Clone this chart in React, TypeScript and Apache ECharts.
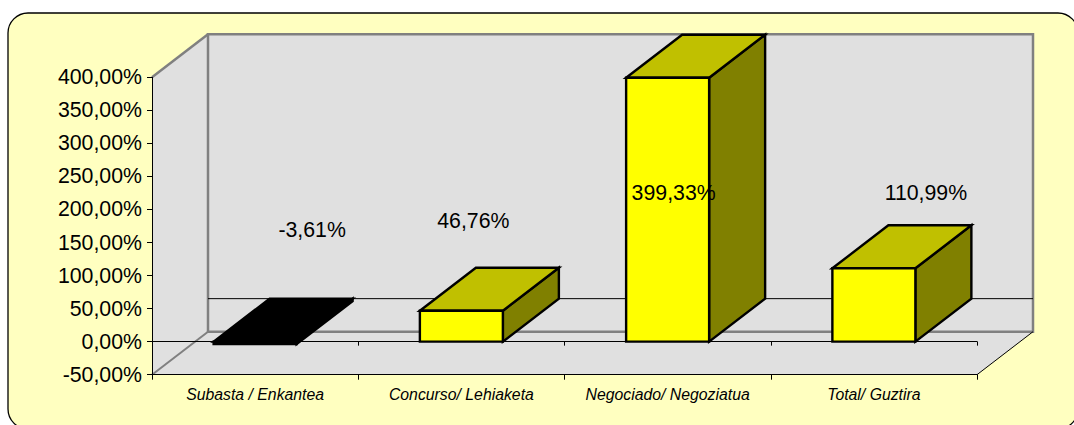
import React, { useEffect, useRef } from "react";
import * as echarts from "echarts";

const categories = ["Subasta / Enkantea", "Concurso/ Lehiaketa", "Negociado/ Negoziatua", "Total/ Guztira"];
const values = [-3.61, 46.76, 399.33, 110.99];
const yMin = -50;
const yMax = 400;
const yStep = 50;

const WIDTH = 1074;
const HEIGHT = 425;
const DX = 56;
const DY = -43;
const BAR_W = 83;
// label placement relative to the top-front centre of each bar
const LABEL_OFFSETS = [[57, -114], [12, -90], [6, 115], [52, -75]];

const fmtPct = (v: number) => v.toFixed(2).replace(".", ",") + "%";

export default function App() {
  const ref = useRef<HTMLDivElement>(null);
  useEffect(() => {
    document.body.style.margin = "0";
    document.body.style.background = "#ffffff";
    const chart = echarts.init(ref.current!, undefined, { renderer: "svg" });

    const renderWalls = (params: any, api: any) => {
      if (params.dataIndex !== 0) return { type: "group", children: [] };
      const band = api.size([1, 0])[0];
      const l = api.coord([0, yMin])[0] - band / 2;
      const r = api.coord([categories.length - 1, yMin])[0] + band / 2;
      const b = api.coord([0, yMin])[1];
      const t = api.coord([0, yMax])[1];
      const z = api.coord([0, 0])[1];
      const fill = { fill: "#e0e0e0" };
      const gray = { stroke: "#808080", lineWidth: 2.5, fill: "none" };
      return {
        type: "group",
        children: [
          { type: "polygon", shape: { points: [[l, t], [l + DX, t + DY], [l + DX, b + DY], [l, b]] }, style: fill },
          { type: "polygon", shape: { points: [[l, b], [l + DX, b + DY], [r + DX, b + DY], [r, b]] }, style: fill },
          { type: "rect", shape: { x: l + DX, y: t + DY, width: r - l, height: b - t }, style: { fill: "#e0e0e0", stroke: "#808080", lineWidth: 2.5 } },
          { type: "line", shape: { x1: l, y1: t, x2: l + DX, y2: t + DY }, style: gray },
          { type: "line", shape: { x1: l, y1: b, x2: l + DX, y2: b + DY }, style: { ...gray, lineWidth: 2 } },
          { type: "line", shape: { x1: r, y1: b, x2: r + DX, y2: b + DY }, style: { stroke: "#000", lineWidth: 1 } },
          { type: "line", shape: { x1: l + DX, y1: z + DY, x2: r + DX, y2: z + DY }, style: { stroke: "#000", lineWidth: 1 } },
        ],
      };
    };

    const renderBar = (params: any, api: any) => {
      const idx = api.value(0);
      const val = api.value(1);
      const [cx, yv] = api.coord([idx, val]);
      const y0 = api.coord([idx, 0])[1];
      const l = cx - BAR_W / 2;
      const r = cx + BAR_W / 2;
      const neg = val < 0;
      const top = Math.min(yv, y0);
      const bot = Math.max(yv, y0);
      const st = { stroke: "#000", lineWidth: 2.4, lineJoin: "miter" };
      const off = LABEL_OFFSETS[params.dataIndex];
      return {
        type: "group",
        children: [
          { type: "polygon", shape: { points: [[r, top], [r + DX, top + DY], [r + DX, bot + DY], [r, bot]] }, style: { ...st, fill: neg ? "#000" : "#808000" } },
          { type: "polygon", shape: { points: [[l, top], [l + DX, top + DY], [r + DX, top + DY], [r, top]] }, style: { ...st, fill: neg ? "#000" : "#c0c000" } },
          { type: "rect", shape: { x: l, y: top, width: BAR_W, height: bot - top }, style: { ...st, fill: neg ? "#000" : "#ffff00" } },
          {
            type: "text",
            x: cx + off[0],
            y: yv + off[1],
            style: {
              text: fmtPct(val),
              fill: "#000",
              fontSize: 21.3,
              fontFamily: "Liberation Sans",
              align: "center",
              verticalAlign: "middle",
            },
          },
        ],
      };
    };

    chart.setOption({
      animation: false,
      backgroundColor: "#ffffff",
      graphic: {
        elements: [
          {
            type: "rect",
            z: -10,
            silent: true,
            shape: { x: 8, y: 13, width: 1070, height: 416, r: 20 },
            style: { fill: "#ffffc0", stroke: "#000", lineWidth: 1.3 },
          },
        ],
      },
      grid: { left: 152, right: WIDTH - 977, top: 77.3, bottom: HEIGHT - 374.7 },
      xAxis: [
        {
          type: "category",
          data: categories,
          position: "bottom",
          z: 3,
          axisLine: { onZero: false, lineStyle: { color: "#000", width: 1 } },
          axisTick: { show: true, alignWithLabel: false, length: 5, lineStyle: { color: "#000" } },
          axisLabel: { interval: 0, margin: 12, color: "#000", fontFamily: "Liberation Sans", fontStyle: "italic", fontSize: 15.8 },
        },
        {
          type: "category",
          data: categories,
          position: "bottom",
          z: 3,
          axisLine: { onZero: true, lineStyle: { color: "#000", width: 1 } },
          axisTick: { show: true, length: 4, lineStyle: { color: "#000" } },
          axisLabel: { show: false },
        },
      ],
      yAxis: {
        type: "value",
        min: yMin,
        max: yMax,
        interval: yStep,
        z: 3,
        axisLine: { show: true, onZero: false, lineStyle: { color: "#000", width: 1 } },
        axisTick: { show: true, length: 5, lineStyle: { color: "#000" } },
        splitLine: { show: false },
        axisLabel: { margin: 10, color: "#000", fontFamily: "Liberation Sans", fontSize: 21.3, formatter: (v: number) => fmtPct(v) },
      },
      series: [
        {
          type: "custom",
          z: 1,
          renderItem: renderWalls,
          data: values.map((v, i) => [i, v]),
          encode: { x: 0, y: 1 },
          silent: true,
        },
        {
          type: "custom",
          z: 5,
          renderItem: renderBar,
          data: values.map((v, i) => [i, v]),
          encode: { x: 0, y: 1 },
          silent: true,
          clip: false,
        },
      ],
    });
    return () => chart.dispose();
  }, []);
  return <div ref={ref} style={{ width: WIDTH, height: HEIGHT, overflow: "hidden" }} />;
}
